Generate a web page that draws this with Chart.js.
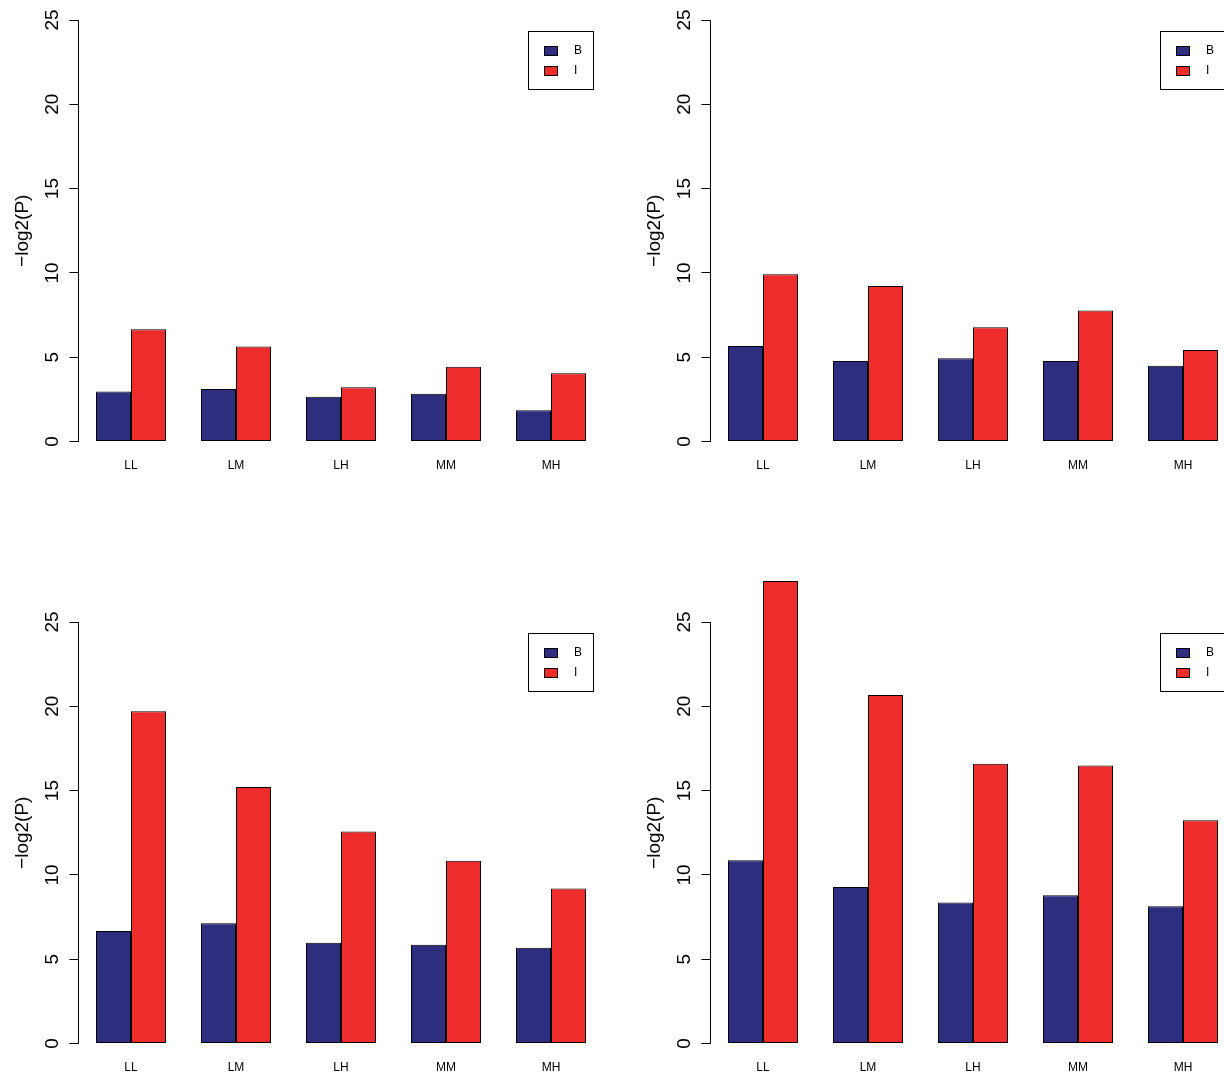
<!DOCTYPE html>
<html>
<head>
<meta charset="utf-8">
<script src="https://cdn.jsdelivr.net/npm/chart.js@4.4.1/dist/chart.umd.min.js"></script>
<style>
  html, body { margin: 0; padding: 0; background: #fff; }
  body { width: 1224px; height: 1075px; overflow: hidden; position: relative; }
  .panel { position: absolute; width: 632px; height: 650px; }
  .panel canvas { display: block; }
</style>
</head>
<body>
<div class="panel" style="left:0px;top:-48px"><canvas id="p1" width="632" height="650"></canvas></div>
<div class="panel" style="left:632px;top:-48px"><canvas id="p2" width="632" height="650"></canvas></div>
<div class="panel" style="left:0px;top:554px"><canvas id="p3" width="632" height="650"></canvas></div>
<div class="panel" style="left:632px;top:554px"><canvas id="p4" width="632" height="650"></canvas></div>
<script>
const categories = ['LL', 'LM', 'LH', 'MM', 'MH'];
const seriesNames = ['B', 'I'];
const yTicks = [0, 5, 10, 15, 20, 25];

// -log2(P) per panel, B then I
const p1B = [2.96, 3.12, 2.66, 2.83, 1.86];
const p1I = [6.66, 5.63, 3.22, 4.43, 4.05];
const p2B = [5.67, 4.78, 4.94, 4.78, 4.50];
const p2I = [9.92, 9.23, 6.78, 7.77, 5.42];
const p3B = [6.67, 7.13, 5.97, 5.86, 5.68];
const p3I = [19.71, 15.22, 12.57, 10.84, 9.20];
const p4B = [10.87, 9.28, 8.37, 8.79, 8.14];
const p4I = [27.43, 20.67, 16.59, 16.49, 13.24];

const colB = '#2e2e7e';
const colI = '#ee2c2c';
const FONT = '"Liberation Sans", Arial, Helvetica, sans-serif';

// boxed legend in the upper right, like R's legend()
const boxLegend = {
  id: 'boxLegend',
  afterDraw(chart) {
    const {ctx, chartArea} = chart;
    const x0 = chartArea.left + 450;
    const y0 = chartArea.top + 11.5;
    ctx.save();
    ctx.strokeStyle = '#000';
    ctx.lineWidth = 1;
    ctx.fillStyle = '#fff';
    ctx.fillRect(x0, y0, 65, 58);
    ctx.strokeRect(x0, y0, 65, 58);
    chart.data.datasets.forEach((ds, i) => {
      const cy = y0 + 19.5 + i * 20;
      ctx.fillStyle = ds.backgroundColor;
      ctx.fillRect(x0 + 16, cy - 4.5, 13, 9);
      ctx.strokeRect(x0 + 16, cy - 4.5, 13, 9);
      ctx.fillStyle = '#000';
      ctx.font = '12px ' + FONT;
      ctx.textBaseline = 'middle';
      ctx.textAlign = 'left';
      ctx.fillText(ds.label, x0 + 45.5, cy);
    });
    ctx.restore();
  }
};

function makePanel(id, bVals, iVals) {
  return new Chart(document.getElementById(id), {
    type: 'bar',
    data: {
      labels: categories,
      datasets: [
        { label: seriesNames[0], data: bVals, backgroundColor: colB },
        { label: seriesNames[1], data: iVals, backgroundColor: colI }
      ]
    },
    options: {
      responsive: false,
      animation: false,
      events: [],
      layout: { padding: { top: 68, right: 28.5, left: 0, bottom: 0 } },
      datasets: {
        bar: {
          borderColor: '#000',
          borderWidth: 1,
          borderSkipped: false,
          categoryPercentage: 2 / 3,
          barPercentage: 1,
          clip: false
        }
      },
      plugins: { legend: { display: false }, tooltip: { enabled: false } },
      scales: {
        x: {
          grid: { display: false, drawTicks: false },
          border: { display: false },
          ticks: { color: '#000', font: { family: FONT, size: 12 }, padding: 17 },
          afterFit(s) { s.height = 160.5; }
        },
        y: {
          min: 0,
          max: 25,
          afterBuildTicks(s) { s.ticks = yTicks.map(v => ({ value: v })); },
          grid: { drawOnChartArea: false, drawTicks: true, tickLength: 9, color: '#000', lineWidth: 1 },
          border: { display: true, color: '#000', width: 1 },
          ticks: {
            color: '#000',
            font: { family: FONT, size: 19 },
            minRotation: 90,
            maxRotation: 90,
            crossAlign: 'center',
            autoSkip: false,
            padding: 6
          },
          title: {
            display: true,
            text: '\u2212log2(P)',
            color: '#000',
            font: { family: FONT, size: 19 },
            padding: { top: 11, bottom: 0 }
          },
          afterFit(s) { s.width = 78.5; }
        }
      }
    },
    plugins: [boxLegend]
  });
}

makePanel('p1', p1B, p1I);
makePanel('p2', p2B, p2I);
makePanel('p3', p3B, p3I);
makePanel('p4', p4B, p4I);
</script>
</body>
</html>
